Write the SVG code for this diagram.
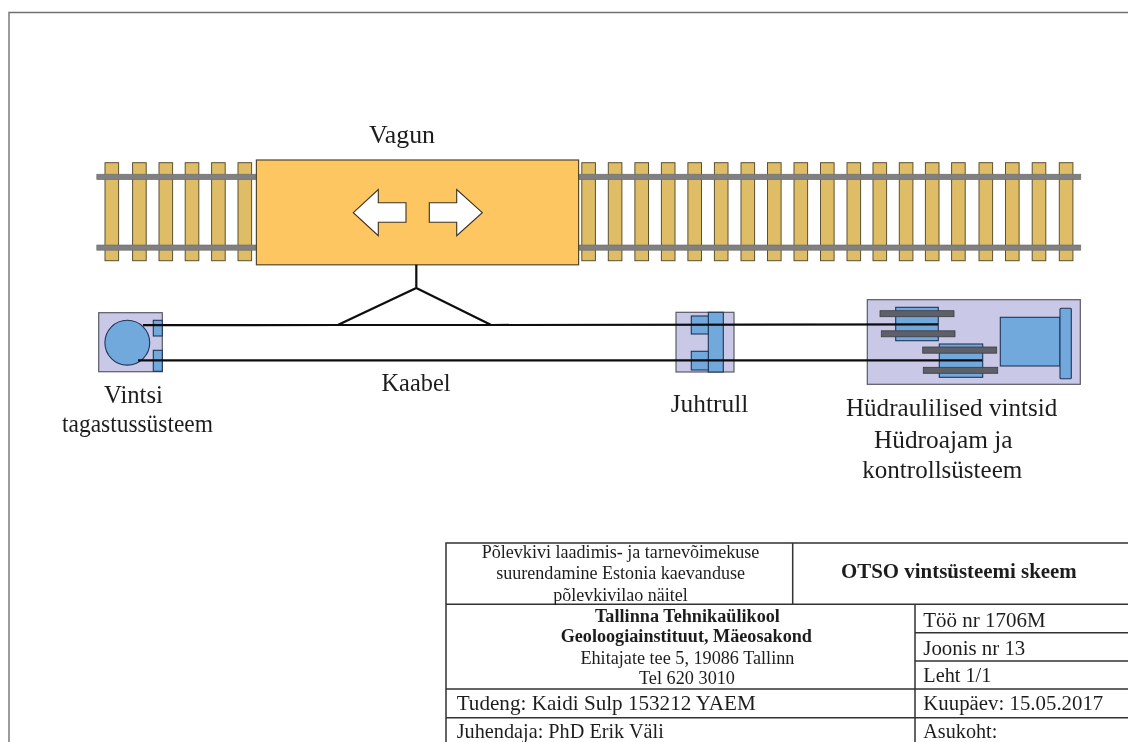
<svg xmlns="http://www.w3.org/2000/svg" width="1128" height="742" viewBox="0 0 1128 742">
<style>
text{font-family:"Liberation Serif","Times New Roman",serif;fill:#1e1e1e;font-size:25px}
.c{text-anchor:middle}
.t{font-size:18px}
.b{font-weight:bold}
.r{font-size:21.5px}
.sl{fill:#dfbc66;stroke:#5c5030;stroke-width:1}
.rl{fill:#808080;stroke:#6a6a6a;stroke-width:.6}
.bx{fill:#c9c8e6;stroke:#5a5a66;stroke-width:1.2}
.bl{fill:#72a9dd;stroke:#1f3558;stroke-width:1.1}
.bar{fill:#5d6068;stroke:#3c3c44;stroke-width:.8}
.ln{fill:none;stroke:#0c0c0c;stroke-width:2.2}
.g{fill:none;stroke:#333;stroke-width:1.5}
.soft{filter:url(#s)}
</style>
<defs>
<filter id="s" x="-2%" y="-2%" width="104%" height="104%"><feGaussianBlur stdDeviation="0.45"/></filter>
<rect id="sleeper" x="0" y="162.7" width="13.6" height="98" class="sl"/>
</defs>
<rect width="1128" height="742" fill="#fff"/>
<g class="soft">
<g id="frame"><path d="M9 742V12.5H1128" fill="none" stroke="#707070" stroke-width="1.4"/></g>
<g id="track">
<use href="#sleeper" x="105"/><use href="#sleeper" x="132.6"/><use href="#sleeper" x="159"/><use href="#sleeper" x="185.2"/><use href="#sleeper" x="211.6"/><use href="#sleeper" x="238"/>
<use href="#sleeper" x="581.8"/><use href="#sleeper" x="608.3"/><use href="#sleeper" x="634.9"/><use href="#sleeper" x="661.4"/><use href="#sleeper" x="687.9"/><use href="#sleeper" x="714.4"/><use href="#sleeper" x="741"/><use href="#sleeper" x="767.5"/><use href="#sleeper" x="794"/><use href="#sleeper" x="820.5"/><use href="#sleeper" x="847"/><use href="#sleeper" x="873"/><use href="#sleeper" x="899.3"/><use href="#sleeper" x="925.4"/><use href="#sleeper" x="951.6"/><use href="#sleeper" x="979"/><use href="#sleeper" x="1005.5"/><use href="#sleeper" x="1032.2"/><use href="#sleeper" x="1059.3"/>
<rect x="96.8" y="174.2" width="984" height="5.4" class="rl"/>
<rect x="96.8" y="245" width="984" height="5.2" class="rl"/>
</g>
<g id="vagun">
<rect x="256.4" y="160" width="322.2" height="104.8" fill="#fdc661" stroke="#55462a" stroke-width="1.2"/>
<path d="M353.3 212.7L378.3 189.5V202.7H406V222.3H378.3V235.7Z" fill="#fff" stroke="#3c3220" stroke-width="1.1"/>
<path d="M482.3 212.7L456.7 189.5V202.7H429.3V222.3H456.7V235.7Z" fill="#fff" stroke="#3c3220" stroke-width="1.1"/>
<text class="c" x="402" y="143" textLength="66" lengthAdjust="spacingAndGlyphs">Vagun</text>
</g>
<g id="vintsi-tagastussusteem">
<rect x="98.7" y="312.7" width="63.6" height="59" class="bx"/>
<circle cx="127.3" cy="342.7" r="22.4" class="bl"/>
<rect x="153.3" y="320.3" width="9" height="15.7" class="bl"/>
<rect x="153.3" y="350.3" width="9" height="21" class="bl"/>
<text class="c" x="133.5" y="403" textLength="59" lengthAdjust="spacingAndGlyphs">Vintsi</text>
<text class="c" x="137.5" y="432" textLength="151" lengthAdjust="spacingAndGlyphs">tagastussüsteem</text>
</g>
<g id="juhtrull">
<rect x="676" y="312.3" width="58" height="59.7" class="bx"/>
<rect x="708.3" y="312.3" width="15" height="59.7" class="bl"/>
<rect x="691.3" y="316" width="17" height="18" class="bl"/>
<rect x="691.3" y="351.3" width="17" height="18.7" class="bl"/>
<text class="c" x="709.5" y="411.7" textLength="77.6" lengthAdjust="spacingAndGlyphs">Juhtrull</text>
</g>
<g id="hudraulilised-vintsid">
<rect x="867.3" y="299.7" width="213" height="84.6" class="bx"/>
<rect x="895.7" y="307.3" width="42.6" height="33.4" class="bl"/>
<rect x="880" y="310.7" width="74" height="6" class="bar"/>
<rect x="881.3" y="330.8" width="73.7" height="6" class="bar"/>
<rect x="939.3" y="344" width="43.4" height="33.3" class="bl"/>
<rect x="922.7" y="347" width="74" height="6.2" class="bar"/>
<rect x="923.3" y="367.3" width="74.4" height="6" class="bar"/>
<rect x="1000.3" y="317.3" width="59.7" height="48.7" class="bl"/>
<rect x="1060" y="308.3" width="11.3" height="70.4" rx="1" class="bl"/>
<text class="c" x="951.6" y="416" textLength="211.3" lengthAdjust="spacingAndGlyphs">Hüdraulilised vintsid</text>
<text class="c" x="943.3" y="448" textLength="138.7" lengthAdjust="spacingAndGlyphs">Hüdroajam ja</text>
<text class="c" x="942.3" y="478.3" textLength="160" lengthAdjust="spacingAndGlyphs">kontrollsüsteem</text>
</g>
<g id="connectors">
<path class="ln" d="M143 325.2L338 325H491L938 324.3"/>
<path class="ln" d="M138 360.4H982.3"/>
<path class="ln" d="M416.3 264.8V288M338.3 324.8L416.3 288L490.7 324.8"/>
</g>
<text id="kaabel" class="c" x="416" y="390.7" textLength="69" lengthAdjust="spacingAndGlyphs">Kaabel</text>
<g id="title-block">
<path class="g" d="M1128 543H446V742M446 604.3H1128M792.7 543V604.3M915 604.3V742M915 632.7H1128M915 661H1128M446 689H1128M446 717.7H1128"/>
<text class="c t" x="620.5" y="557.7" textLength="277.6" lengthAdjust="spacingAndGlyphs">Põlevkivi laadimis- ja tarnevõimekuse</text>
<text class="c t" x="620.6" y="578.8" textLength="248.8" lengthAdjust="spacingAndGlyphs">suurendamine Estonia kaevanduse</text>
<text class="c t" x="620.5" y="600.7" textLength="134.7" lengthAdjust="spacingAndGlyphs">põlevkivilao näitel</text>
<text class="c b" style="font-size:20px" x="958.9" y="577.7" textLength="235.7" lengthAdjust="spacingAndGlyphs">OTSO vintsüsteemi skeem</text>
<text class="c t b" x="687.4" y="622.3" textLength="185" lengthAdjust="spacingAndGlyphs">Tallinna Tehnikaülikool</text>
<text class="c t b" x="686.3" y="642.3" textLength="251.3" lengthAdjust="spacingAndGlyphs">Geoloogiainstituut, Mäeosakond</text>
<text class="c t" x="687.4" y="664" style="font-size:19px" textLength="214" lengthAdjust="spacingAndGlyphs">Ehitajate tee 5, 19086 Tallinn</text>
<text class="c t" x="687" y="684" style="font-size:19px" textLength="96" lengthAdjust="spacingAndGlyphs">Tel 620 3010</text>
<text class="r" x="923.3" y="626.7" textLength="122.4" lengthAdjust="spacingAndGlyphs">Töö nr 1706M</text>
<text class="r" x="923.3" y="655" textLength="102" lengthAdjust="spacingAndGlyphs">Joonis nr 13</text>
<text class="r" x="923.3" y="682" textLength="68" lengthAdjust="spacingAndGlyphs">Leht 1/1</text>
<text class="r" x="923.3" y="710" style="font-size:20px" textLength="180" lengthAdjust="spacingAndGlyphs">Kuupäev: 15.05.2017</text>
<text class="r" x="923.3" y="738" textLength="74" lengthAdjust="spacingAndGlyphs">Asukoht:</text>
<text x="456.7" y="710" style="font-size:22px" textLength="299" lengthAdjust="spacingAndGlyphs">Tudeng: Kaidi Sulp 153212 YAEM</text>
<text x="456.7" y="737.5" style="font-size:21px" textLength="207.1" lengthAdjust="spacingAndGlyphs">Juhendaja: PhD Erik Väli</text>
</g>
</g>
</svg>
